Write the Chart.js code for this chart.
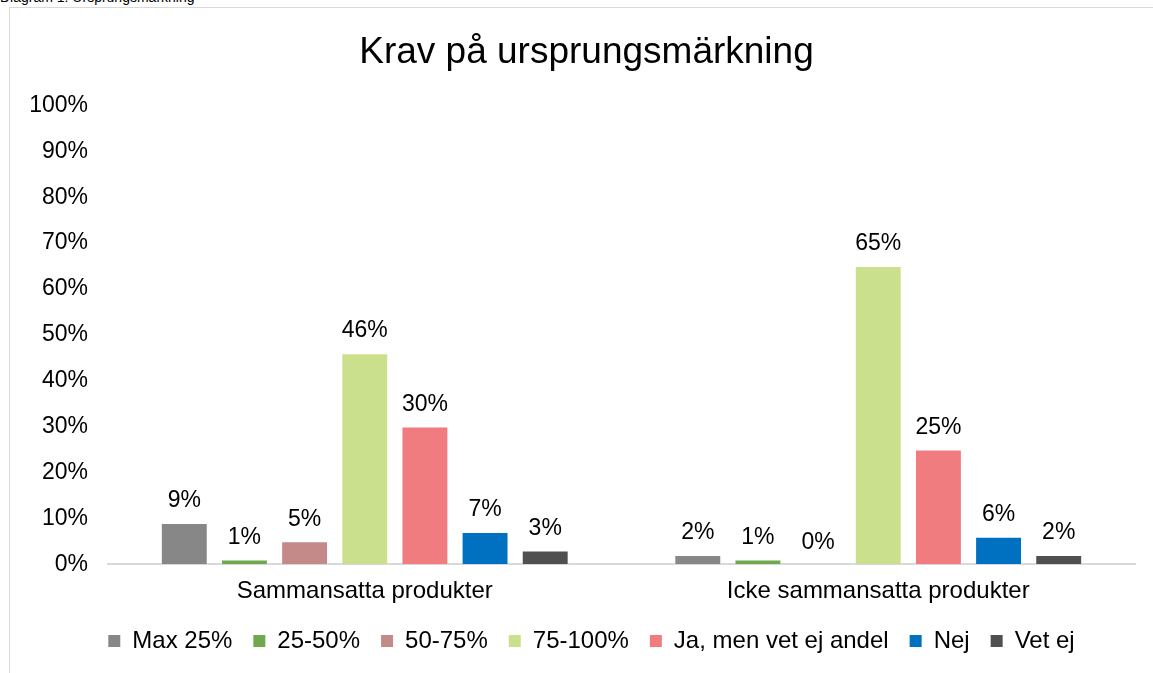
<!DOCTYPE html>
<html>
<head>
<meta charset="utf-8">
<script src="https://cdn.jsdelivr.net/npm/chart.js@4"></script>
<style>
  body { margin: 0; background: #fff; overflow: hidden; }
  #caption { position: absolute; left: 0; top: -11px; font: 14px "Liberation Sans", Arial, sans-serif; color: #000; }
  #frame { position: absolute; left: 9px; top: 7px; width: 1200px; height: 700px; border: 1px solid #d9d9d9; }
  #wrap { position: absolute; left: 0; top: 0; width: 1153px; height: 673px; }
</style>
</head>
<body>
<div id="caption">Diagram 1: Ursprungsmärkning</div>
<div id="frame"></div>
<div id="wrap"><canvas id="chart"></canvas></div>
<script>
// data
const categories = ["Sammansatta produkter", "Icke sammansatta produkter"];
const seriesNames = ["Max 25%", "25-50%", "50-75%", "75-100%", "Ja, men vet ej andel", "Nej", "Vet ej"];
const max25 = [9, 2];
const p25to50 = [1, 1];
const p50to75 = [5, 0];
const p75to100 = [46, 65];
const jaMenVetEj = [30, 25];
const nej = [7, 6];
const vetEj = [3, 2];
const yTicks = [0, 10, 20, 30, 40, 50, 60, 70, 80, 90, 100];

const colors = ["#878787", "#70a84f", "#c48a8a", "#cbe08c", "#f07c80", "#0070c0", "#505050"];
const seriesValues = [max25, p25to50, p50to75, p75to100, jaMenVetEj, nej, vetEj];

const font = "'Liberation Sans', Arial, sans-serif";

// labels above bars
const barLabels = {
  id: "barLabels",
  afterDatasetsDraw(chart) {
    const ctx = chart.ctx;
    ctx.save();
    ctx.font = "23px " + font;
    ctx.fillStyle = "#000";
    ctx.textAlign = "center";
    ctx.textBaseline = "middle";
    chart.data.datasets.forEach((ds, i) => {
      chart.getDatasetMeta(i).data.forEach((bar, j) => {
        ctx.fillText(ds.data[j] + "%", bar.x, bar.y - 22);
      });
    });
    ctx.restore();
  }
};

// title and legend sit a bit right of the canvas centre
const shiftBoxes = {
  id: "shiftBoxes",
  beforeDraw(chart) {
    if (chart.legend) chart.legend.left = 48;
    if (chart.titleBlock) chart.titleBlock.left = 38;
  }
};

new Chart(document.getElementById("chart"), {
  type: "bar",
  data: {
    labels: categories,
    datasets: seriesNames.map((name, i) => ({
      label: name,
      data: seriesValues[i],
      backgroundColor: colors[i],
      borderColor: "rgba(255,255,255,0.35)",
      borderWidth: 1,
      barPercentage: 0.78,
      categoryPercentage: 0.82
    }))
  },
  options: {
    responsive: true,
    maintainAspectRatio: false,
    animation: false,
    layout: { padding: { top: 31, right: 18, bottom: 10, left: 0 } },
    plugins: {
      title: {
        display: true,
        text: "Krav på ursprungsmärkning",
        color: "#000",
        font: { family: font, size: 37, weight: "normal" },
        padding: { top: 0, bottom: 30 }
      },
      legend: {
        position: "bottom",
        labels: {
          color: "#000",
          font: { family: font, size: 24 },
          boxWidth: 12,
          boxHeight: 12,
          padding: 21,
          generateLabels(chart) {
            return chart.data.datasets.map((ds, i) => ({
              text: ds.label,
              fillStyle: ds.backgroundColor,
              strokeStyle: ds.backgroundColor,
              lineWidth: 0,
              datasetIndex: i
            }));
          }
        }
      },
      tooltip: { enabled: false }
    },
    scales: {
      x: {
        afterFit(scale) { scale.height -= 11; },
        grid: { display: false, drawTicks: false },
        border: { color: "#d9d9d9", width: 2 },
        ticks: { color: "#000", font: { family: font, size: 24 }, padding: 13 }
      },
      y: {
        min: 0,
        max: 100,
        afterFit(scale) { scale.width = 108; },
        afterBuildTicks(scale) { scale.ticks = yTicks.map(v => ({ value: v })); },
        grid: { display: false, drawTicks: false },
        border: { display: false },
        ticks: {
          color: "#000",
          font: { family: font, size: 23 },
          padding: 20,
          callback: v => v + "%"
        }
      }
    }
  },
  plugins: [barLabels, shiftBoxes]
});
</script>
</body>
</html>
